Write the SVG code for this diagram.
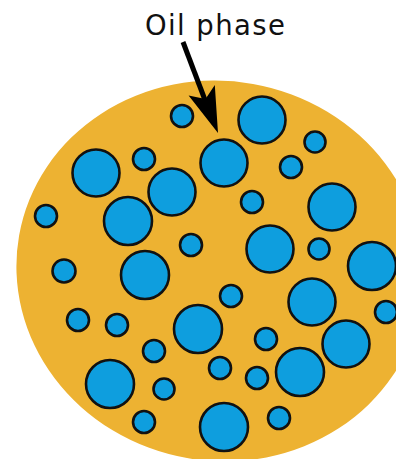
<svg xmlns="http://www.w3.org/2000/svg" width="396" height="459" viewBox="0 0 396 459">
<style>
.oil{fill:#EDB232;stroke:none}
.d{fill:#0E9EDE;stroke:#111;stroke-width:2.6}
.lbl{font-family:"DejaVu Sans","Verdana",sans-serif;font-size:27.5px;fill:#111}
.shaft{stroke:#000;stroke-width:5;fill:none;stroke-linecap:butt}
.head{fill:#000}
</style>
<rect width="396" height="459" fill="#fff"/>
<g id="emulsion">
<ellipse class="oil" cx="220" cy="271" rx="204" ry="190" transform="rotate(10 220 271)"/>
</g>
<g id="droplets">
<circle class="d" cx="182" cy="116" r="11"/>
<circle class="d" cx="262" cy="120" r="23.5"/>
<circle class="d" cx="315" cy="142" r="10.5"/>
<circle class="d" cx="96" cy="173" r="23.5"/>
<circle class="d" cx="144" cy="159" r="11"/>
<circle class="d" cx="224" cy="163" r="23.5"/>
<circle class="d" cx="291" cy="167" r="11"/>
<circle class="d" cx="172" cy="192" r="23.5"/>
<circle class="d" cx="128" cy="221" r="24"/>
<circle class="d" cx="46" cy="216" r="11"/>
<circle class="d" cx="252" cy="202" r="11"/>
<circle class="d" cx="332" cy="207" r="23.5"/>
<circle class="d" cx="191" cy="245" r="11"/>
<circle class="d" cx="270" cy="249" r="23.5"/>
<circle class="d" cx="319" cy="249" r="10.5"/>
<circle class="d" cx="372" cy="266" r="24"/>
<circle class="d" cx="64" cy="271" r="11.5"/>
<circle class="d" cx="145" cy="275" r="24"/>
<circle class="d" cx="231" cy="296" r="11"/>
<circle class="d" cx="312" cy="302" r="23.5"/>
<circle class="d" cx="386" cy="312" r="11"/>
<circle class="d" cx="78" cy="320" r="11"/>
<circle class="d" cx="117" cy="325" r="11"/>
<circle class="d" cx="198" cy="329" r="24"/>
<circle class="d" cx="154" cy="351" r="11"/>
<circle class="d" cx="266" cy="339" r="11"/>
<circle class="d" cx="346" cy="344" r="23.5"/>
<circle class="d" cx="220" cy="368" r="11"/>
<circle class="d" cx="300" cy="372" r="24"/>
<circle class="d" cx="257" cy="378" r="11"/>
<circle class="d" cx="110" cy="384" r="24"/>
<circle class="d" cx="164" cy="389" r="10.5"/>
<circle class="d" cx="144" cy="422" r="11"/>
<circle class="d" cx="224" cy="427" r="24"/>
<circle class="d" cx="279" cy="418" r="11"/>
</g>
<g id="label">
<text class="lbl" x="145" y="35" textLength="140" lengthAdjust="spacing">Oil phase</text>
</g>
<g id="connectors">
<line class="shaft" x1="183" y1="42" x2="205" y2="100"/>
<polygon class="head" points="218,133 214.8,85 205.5,99 188.6,95.5"/>
</g>
</svg>
